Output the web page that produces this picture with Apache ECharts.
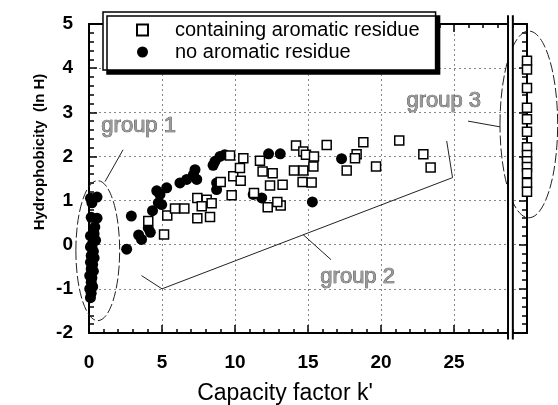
<!DOCTYPE html>
<html><head><meta charset="utf-8">
<script src="https://cdn.jsdelivr.net/npm/echarts@6/dist/echarts.min.js"></script>
<style>html,body{margin:0;padding:0;background:#fff}#c{width:558px;height:405px}</style>
</head><body><div id="c"></div>
<script>
// ---- data ----
const xTickLabels = [0, 5, 10, 15, 20, 25];
const yTickLabels = [-2, -1, 0, 1, 2, 3, 4, 5];
const seriesNames = ['containing aromatic residue', 'no aromatic residue'];

const aromaticK = [4.06,5.14,5.36,5.89,6.53,7.42,7.42,8.06,8.29,8.40,7.72,9.02,9.66,9.77,9.88,10.39,10.34,10.57,11.71,11.89,12.58,12.40,13.26,11.30,12.24,13.13,12.90,14.18,14.68,14.86,15.41,15.37,14.68,14.04,14.63,15.25,16.28,17.65,18.33,18.22,18.79,19.66,21.25,22.90,23.40];
const aromaticH = [0.54,0.23,0.66,0.82,0.82,1.06,0.60,1.02,0.63,0.94,0.87,1.42,2.02,1.12,1.55,1.45,1.74,1.96,1.90,1.66,1.62,1.34,1.36,1.17,0.85,0.89,0.97,2.25,2.11,2.04,2.00,1.77,1.68,1.68,1.42,1.41,2.26,1.68,2.05,1.96,2.32,1.77,2.36,2.05,1.75];

// group 3: plotted beyond the axis break
const group3K = 30;
const group3H = [4.17,3.97,3.55,3.10,2.84,2.56,2.21,2.03,1.89,1.76,1.62,1.40,1.20];

const noAromaticK = [2.58,2.90,3.40,3.60,4.06,4.20,4.35,4.64,4.86,4.75,4.98,5.32,6.23,6.69,7.26,7.38,7.15,8.74,8.74,8.50,8.63,8.97,9.30,11.25,11.83,12.30,13.10,15.30,17.30,
  0.10,0.55,0.20,0.15,0.55,0.35,0.10,0.45,0.20,0.10,0.30,0.15,0.35,0.10,0.25,0.15,0.30,0.05,0.20,0.15,0.25,0.05,0.15,0.10,0.20,0.40,0.25];
const noAromaticH = [-0.10,0.65,0.22,0.12,0.38,0.28,0.77,1.22,1.14,0.95,0.91,1.29,1.40,1.48,1.70,1.48,1.59,1.40,1.25,1.80,1.89,2.00,2.04,1.14,1.06,2.06,2.06,0.97,1.95,
  1.05,1.08,0.95,0.62,0.60,0.25,0.20,0.10,0.00,-0.05,-0.15,-0.25,-0.30,-0.40,-0.45,-0.55,-0.60,-0.70,-0.75,-0.85,-0.95,-1.00,-1.10,-1.20,-0.05,0.40,-0.20];

const FONT = 'Liberation Sans, Arial, Helvetica, sans-serif';

const aromaticData = aromaticK.map((k, i) => [k, aromaticH[i]]).concat(group3H.map(h => [group3K, h]));
const noAromaticData = noAromaticK.map((k, i) => [k, noAromaticH[i]]);

const chart = echarts.init(document.getElementById('c'), null, {renderer: 'canvas'});

const axisLineStyle = {color: '#000', width: 2};
const tickStyle = {color: '#000', width: 1.5};
const gridLineStyle = {color: '#888', type: [2, 3], width: 1};

chart.setOption({
  animation: false,
  backgroundColor: '#fff',
  grid: {left: 89, right: 31, top: 24, bottom: 72},
  legend: {
    data: seriesNames,
    orient: 'vertical',
    left: 103, top: 12,
    backgroundColor: '#fff',
    borderColor: '#000', borderWidth: 1.5,
    padding: [8, 16, 8, 33],
    itemGap: 2,
    itemWidth: 11, itemHeight: 11,
    shadowColor: '#000', shadowBlur: 0, shadowOffsetX: 4, shadowOffsetY: 4,
    textStyle: {fontSize: 20, color: '#000', fontFamily: FONT, padding: [0, 0, 0, 22]},
    selectedMode: false
  },
  xAxis: [{
    type: 'value', min: 0, max: 30, interval: 5, position: 'bottom',
    axisLine: {show: true, onZero: false, lineStyle: axisLineStyle},
    axisTick: {show: true, inside: true, length: 8, lineStyle: tickStyle},
    minorTick: {show: true, splitNumber: 5, length: 4, lineStyle: tickStyle},
    axisLabel: {margin: 20, fontSize: 19, fontWeight: 'bold', color: '#000', fontFamily: FONT,
      formatter: v => xTickLabels.includes(v) ? String(v) : ''},
    splitLine: {show: true, lineStyle: gridLineStyle}
  }, {
    type: 'value', min: 0, max: 30, interval: 5, position: 'top',
    axisLine: {show: true, onZero: false, lineStyle: axisLineStyle},
    axisTick: {show: true, inside: true, length: 8, lineStyle: tickStyle},
    minorTick: {show: true, splitNumber: 5, length: 4, lineStyle: tickStyle},
    axisLabel: {show: false}, splitLine: {show: false}
  }],
  yAxis: [{
    type: 'value', min: -2, max: 5, interval: 1, position: 'left',
    axisLine: {show: true, onZero: false, lineStyle: axisLineStyle},
    axisTick: {show: true, inside: true, length: 8, lineStyle: tickStyle},
    minorTick: {show: true, splitNumber: 5, length: 5, lineStyle: tickStyle},
    axisLabel: {margin: 16, fontSize: 19, fontWeight: 'bold', color: '#000', fontFamily: FONT,
      formatter: v => yTickLabels.includes(v) ? String(v) : ''},
    splitLine: {show: true, lineStyle: gridLineStyle}
  }, {
    type: 'value', min: -2, max: 5, interval: 1, position: 'right',
    axisLine: {show: true, onZero: false, lineStyle: axisLineStyle},
    axisTick: {show: true, inside: true, length: 8, lineStyle: tickStyle},
    minorTick: {show: true, splitNumber: 5, length: 5, lineStyle: tickStyle},
    axisLabel: {show: false}, splitLine: {show: false}
  }],
  series: [{
    name: seriesNames[1], type: 'scatter', data: noAromaticData,
    symbol: 'circle', symbolSize: 11, clip: false, z: 3,
    itemStyle: {color: '#000', opacity: 1}
  }, {
    name: seriesNames[0], type: 'scatter', data: aromaticData,
    symbol: 'rect', symbolSize: 9, clip: false, z: 4,
    itemStyle: {color: '#fff', borderColor: '#000', borderWidth: 1.5, opacity: 1}
  }]
});

// ---- annotations, positioned in data space through the chart's scales ----
function P(x, y) { return chart.convertToPixel({gridIndex: 0}, [x, y]); }
function ellipseFrom(x0, x1, y0, y1) {
  const a = P(x0, y0), b = P(x1, y1);
  return {type: 'ellipse', z: 10, silent: true,
    shape: {cx: (a[0] + b[0]) / 2, cy: (a[1] + b[1]) / 2, rx: Math.abs(b[0] - a[0]) / 2, ry: Math.abs(b[1] - a[1]) / 2},
    style: {fill: 'none', stroke: '#222', lineWidth: 1, lineDash: [10, 3]}};
}
function lineFrom(pts) {
  return {type: 'polyline', z: 10, silent: true, shape: {points: pts.map(p => P(p[0], p[1]))},
    style: {fill: 'none', stroke: '#222', lineWidth: 1}};
}
function label(text, x, y) {
  const p = P(x, y);
  return {type: 'text', z: 10, silent: true, x: p[0], y: p[1],
    style: {text: text, fontSize: 22, fontFamily: FONT, fill: '#9a9a9a', stroke: '#333', lineWidth: 0.7,
      align: 'center', verticalAlign: 'middle'}};
}
const brkA = P(28.7, 5.2), brkA2 = P(28.7, -2.15), brkB = P(29.03, 5.2), brkB2 = P(29.03, -2.15);

chart.setOption({
  graphic: [
    ellipseFrom(-0.9, 2.1, 1.45, -1.72),
    lineFrom([[1.1, 1.43], [2.33, 2.15]]),
    label('group 1', 3.4, 2.69),
    lineFrom([[3.6, -0.7], [5.0, -1.0], [24.9, 1.52], [24.5, 2.35]]),
    lineFrom([[14.66, 0.23], [16.58, -0.34]]),
    label('group 2', 18.4, -0.72),
    ellipseFrom(28.15, 32.1, 4.84, 0.61),
    lineFrom([[25.96, 2.8], [28.15, 2.67]]),
    label('group 3', 24.3, 3.26),
    {type: 'rect', z: 11, silent: true, shape: {x: brkA[0], y: brkA[1], width: brkB[0] - brkA[0], height: brkA2[1] - brkA[1]}, style: {fill: '#fff'}},
    {type: 'line', z: 12, silent: true, shape: {x1: brkA[0], y1: brkA[1], x2: brkA2[0], y2: brkA2[1]}, style: {stroke: '#000', lineWidth: 2}},
    {type: 'line', z: 12, silent: true, shape: {x1: brkB[0], y1: brkB[1], x2: brkB2[0], y2: brkB2[1]}, style: {stroke: '#000', lineWidth: 2}},
    {type: 'text', z: 10, silent: true, x: 285, y: 394,
      style: {text: "Capacity factor k'", fontSize: 23, fontFamily: FONT, fill: '#000', align: 'center', verticalAlign: 'middle'}},
    {type: 'text', z: 10, silent: true, x: 40, y: 152, rotation: Math.PI / 2,
      style: {text: 'Hydrophobicity  (ln H)', fontSize: 15, fontWeight: 'bold', fontFamily: FONT, fill: '#000', align: 'center', verticalAlign: 'middle'}}
  ]
});
</script>
</body></html>
